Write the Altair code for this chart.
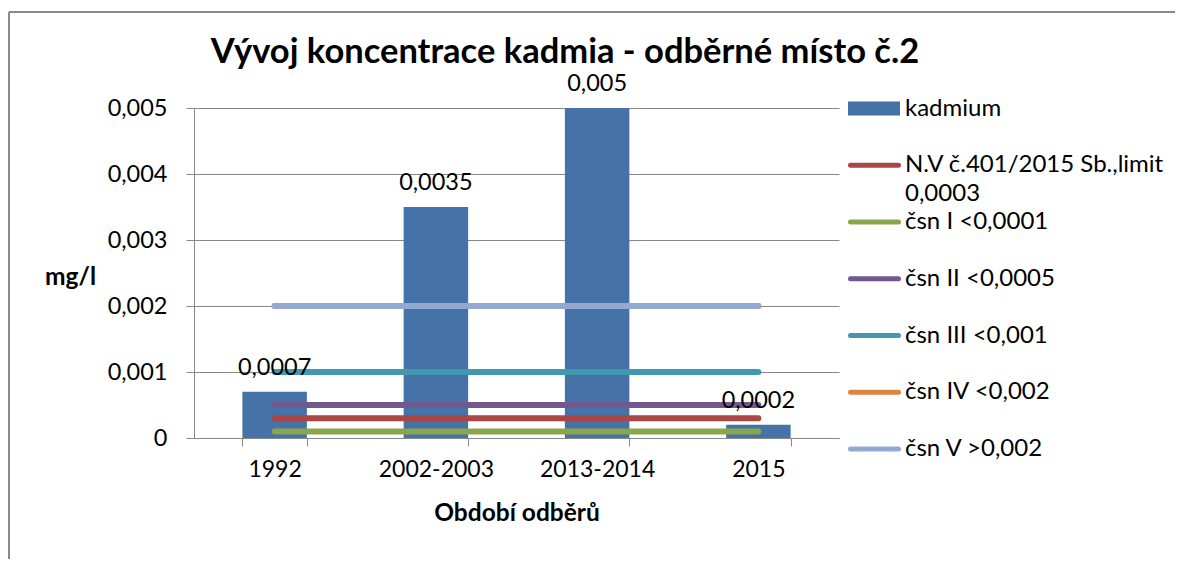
import altair as alt
import pandas as pd

# ---------------- data ----------------
categories = ["1992", "2002-2003", "2013-2014", "2015"]
kadmium_values = [0.0007, 0.0035, 0.005, 0.0002]

limit_names = [
    "N.V č.401/2015 Sb.,limit 0,0003",
    "čsn I <0,0001",
    "čsn II <0,0005",
    "čsn III <0,001",
    "čsn IV <0,002",
    "čsn V >0,002",
]
limit_values = [0.0003, 0.0001, 0.0005, 0.001, 0.002, 0.002]

series_names = ["kadmium"] + limit_names
legend_labels = [
    "kadmium",
    "N.V č.401/2015 Sb.,limit\n0,0003",
    "čsn I <0,0001",
    "čsn II <0,0005",
    "čsn III <0,001",
    "čsn IV <0,002",
    "čsn V >0,002",
]
series_colors = ["#4572A7", "#AA4643", "#89A54E", "#71588F", "#4198AF", "#DB843D", "#93A9CF"]
y_ticks = [0, 0.001, 0.002, 0.003, 0.004, 0.005]

title_text = "Vývoj koncentrace kadmia - odběrné místo č.2"
x_title = "Období odběrů"
y_title = "mg/l"

# ---------------- tables ----------------
bar_df = pd.DataFrame({"category": categories, "value": kadmium_values, "series": "kadmium"})
line_rows = []
for name, val in zip(limit_names, limit_values):
    for cat in categories:
        line_rows.append({"category": cat, "value": val, "series": name})
line_df = pd.DataFrame(line_rows)
legend_df = pd.DataFrame({"series": series_names, "label": legend_labels, "idx": list(range(len(series_names)))})
dummy = pd.DataFrame({"t": [title_text]})

FONT = "Lato"
GRAY = "#878787"
W, H = 645, 330
PAD = {"left": 186, "top": 100, "right": 337, "bottom": 121}
FS = 23.5
FSB = 24.5

color_scale = alt.Scale(domain=series_names, range=series_colors)
color_enc = alt.Color("series:N", scale=color_scale, legend=None)

x_enc = alt.X(
    "category:N",
    sort=categories,
    scale=alt.Scale(paddingInner=0.6, paddingOuter=0.3),
    title=x_title,
    axis=alt.Axis(
        labelFont=FONT, labelFontSize=23, labelColor="black", labelAngle=0, labelPadding=12,
        tickBand="extent", tickSize=8, tickColor=GRAY, domainColor=GRAY, grid=False,
        titleFont=FONT, titleFontSize=FSB, titleFontWeight="bold", titleColor="black",
        titleX=W / 2, titleY=75, titleBaseline="middle", titleAlign="center",
    ),
)
y_enc = alt.Y(
    "value:Q",
    scale=alt.Scale(domain=[0, 0.005], nice=False),
    title=y_title,
    axis=alt.Axis(
        values=y_ticks,
        labelExpr="datum.value == 0 ? '0' : replace(format(datum.value, '.3f'), '.', ',')",
        labelFont=FONT, labelFontSize=FS, labelColor="black", labelPadding=19,
        tickSize=8, tickColor=GRAY, domainColor=GRAY, gridColor=GRAY, gridWidth=1,
        titleFont=FONT, titleFontSize=FSB, titleFontWeight="bold", titleColor="black",
        titleAngle=0, titleX=-124, titleY=169, titleAlign="center", titleBaseline="middle",
    ),
)

bars = alt.Chart(bar_df).mark_bar().encode(x=x_enc, y=y_enc, color=color_enc)
lines = alt.Chart(line_df).mark_line(strokeWidth=6, strokeCap="round").encode(
    x=alt.X("category:N", sort=categories), y="value:Q", color=color_enc
)
labels = (
    alt.Chart(bar_df)
    .transform_calculate(label="replace(toString(datum.value), '.', ',')")
    .mark_text(baseline="alphabetic", dy=-17, font=FONT, fontSize=FS, color="black")
    .encode(x=alt.X("category:N", sort=categories), y="value:Q", text="label:N")
)
main = alt.layer(bars, lines, labels)

# ---------------- legend (drawn from legend table) ----------------
ly = alt.Y("idx:Q", scale=alt.Scale(domain=[0, 6], range=[0.5, 341]), axis=None)
sw_bar = (
    alt.Chart(legend_df).transform_filter("datum.idx == 0")
    .mark_rule(strokeWidth=14, strokeCap="butt")
    .encode(x=alt.value(654), x2=alt.value(706), y=ly, color=color_enc)
)
sw_lines = (
    alt.Chart(legend_df).transform_filter("datum.idx > 0")
    .mark_rule(strokeWidth=5, strokeCap="round")
    .encode(x=alt.value(656.5), x2=alt.value(704.5), y=ly, color=color_enc)
)
leg_text = (
    alt.Chart(legend_df)
    .mark_text(align="left", baseline="top", dy=-12, font=FONT, fontSize=24,
               lineBreak="\n", lineHeight=29, color="black")
    .encode(x=alt.value(711), y=ly, text="label:N")
)
legend = alt.layer(sw_bar, sw_lines, leg_text)

# ---------------- frame and title ----------------
right_edge = W + PAD["right"]
bottom_edge = H + PAD["bottom"]
frame_top = alt.Chart(dummy).mark_rule(color="#8a8a8a", strokeWidth=2).encode(
    x=alt.value(-185), x2=alt.value(right_edge - 1), y=alt.value(-96)
)
frame_left = alt.Chart(dummy).mark_rule(color="#8a8a8a", strokeWidth=2).encode(
    x=alt.value(-185), y=alt.value(-96), y2=alt.value(bottom_edge)
)
title = alt.Chart(dummy).mark_text(
    font=FONT, fontSize=34.5, fontWeight="bold", align="center", baseline="middle", color="black"
).encode(x=alt.value(371), y=alt.value(-55), text="t:N")

chart = (
    alt.layer(frame_top, frame_left, main, legend, title)
    .resolve_scale(y="independent")
    .properties(
        width=W, height=H,
        autosize=alt.AutoSizeParams(type="none"),
        padding=PAD,
        background="white",
    )
    .configure_view(stroke=None)
)

chart.save("out.html", embed_options={"renderer": "svg", "actions": False})
